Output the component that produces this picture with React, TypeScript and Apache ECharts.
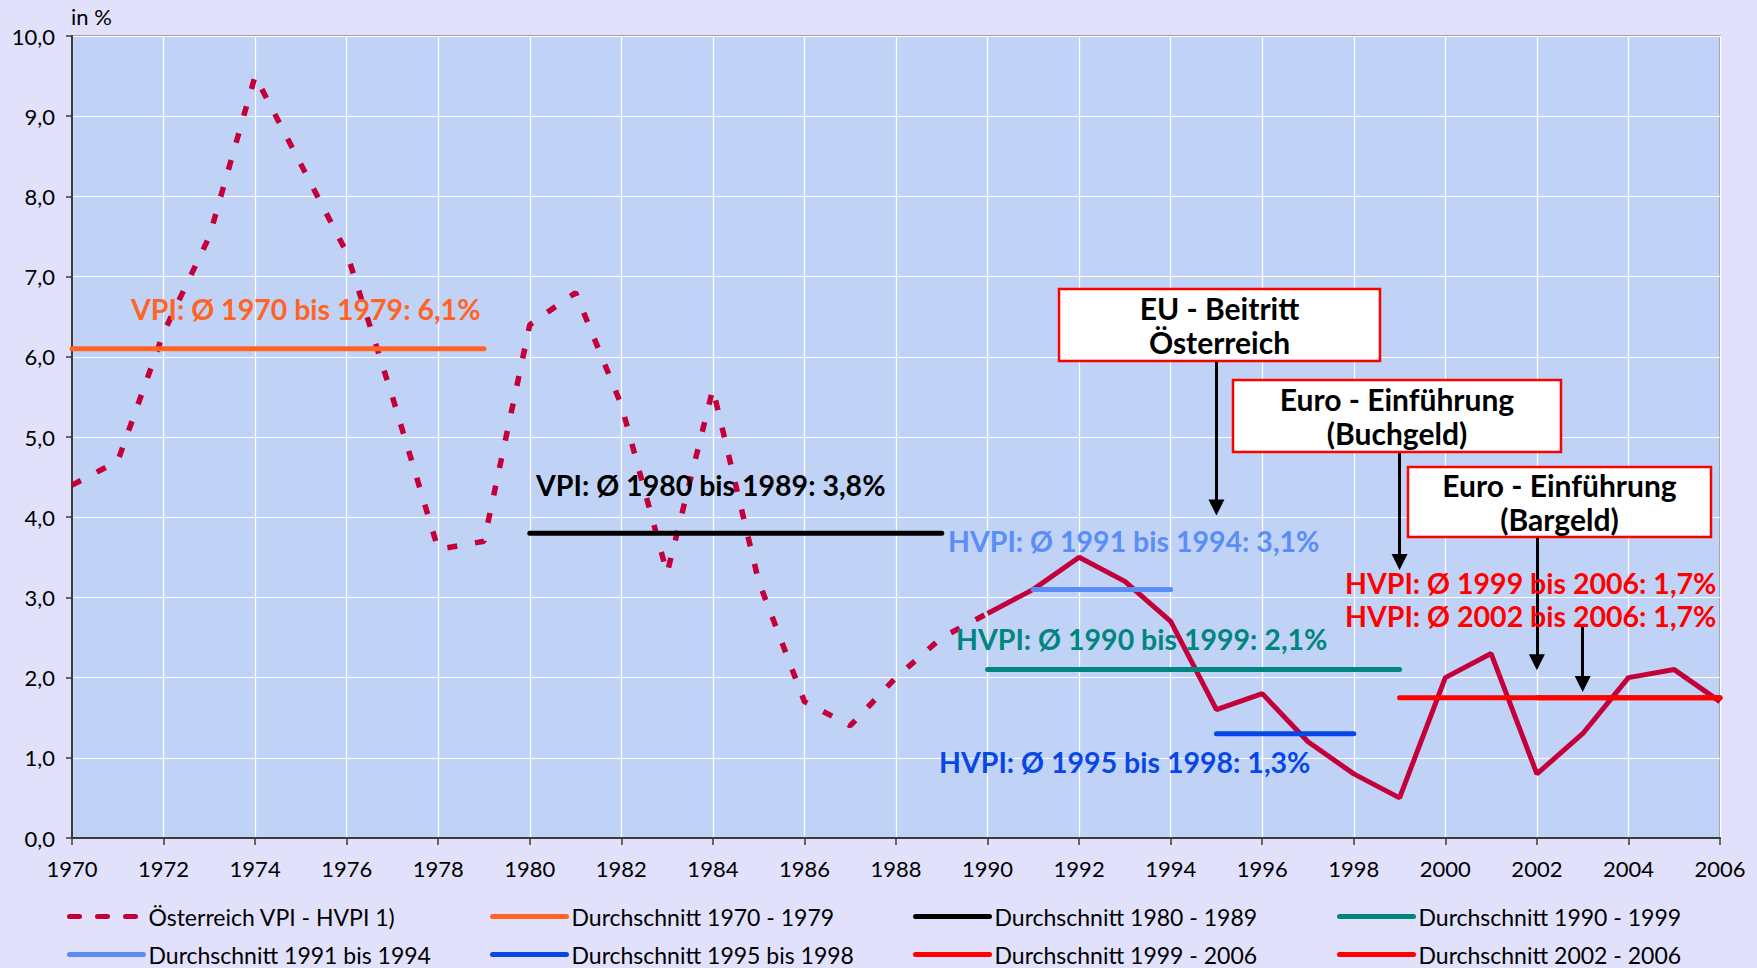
import React, { useEffect, useRef } from "react";
import * as echarts from "echarts";

// ---- data ----
const vpiYears = [1970, 1971, 1972, 1973, 1974, 1975, 1976, 1977, 1978, 1979, 1980, 1981, 1982, 1983, 1984, 1985, 1986, 1987, 1988, 1989, 1990];
const vpiValues = [4.4, 4.7, 6.3, 7.5, 9.5, 8.4, 7.3, 5.5, 3.6, 3.7, 6.4, 6.8, 5.4, 3.3, 5.6, 3.2, 1.7, 1.4, 2.0, 2.5, 2.8];
const hvpiYears = [1990, 1991, 1992, 1993, 1994, 1995, 1996, 1997, 1998, 1999, 2000, 2001, 2002, 2003, 2004, 2005, 2006];
const hvpiValues = [2.8, 3.1, 3.5, 3.2, 2.7, 1.6, 1.8, 1.2, 0.8, 0.5, 2.0, 2.3, 0.8, 1.3, 2.0, 2.1, 1.7];

const cpiName = "Österreich VPI - HVPI 1)";
const avgNames = [
  "Durchschnitt 1970 - 1979",
  "Durchschnitt 1980 - 1989",
  "Durchschnitt 1990 - 1999",
  "Durchschnitt 1991 bis 1994",
  "Durchschnitt 1995 bis 1998",
  "Durchschnitt 1999 - 2006",
  "Durchschnitt 2002 - 2006",
];
const avgFrom = [1970, 1980, 1990, 1991, 1995, 1999, 2002];
const avgTo = [1979, 1989, 1999, 1994, 1998, 2006, 2006];
const avgValues = [6.1, 3.8, 2.1, 3.1, 1.3, 1.75, 1.75];
const avgColors = ["#FF6424", "#000000", "#00857F", "#5B8DF6", "#0747E6", "#FF0000", "#FF0000"];

// arrows (event markers)
const arrowYears = [1995, 1999, 2002, 2003];
const arrowFrom = [5.95, 4.8, 3.75, 2.63];
const arrowTo = [4.12, 3.44, 2.19, 1.92];

// legend layout: 2 rows x 4 columns
const legendOrder = [
  cpiName, avgNames[0], avgNames[1], avgNames[2],
  avgNames[3], avgNames[4], avgNames[5], avgNames[6],
];

const FONT = "Lato, 'Open Sans', sans-serif";

export default function App() {
  const ref = useRef<HTMLDivElement>(null);
  useEffect(() => {
    if (!ref.current) return;
    const chart = echarts.init(ref.current, undefined, { renderer: "svg" });

    const series: any[] = [
      {
        name: cpiName,
        type: "line",
        data: vpiYears.map((y, i) => [y, vpiValues[i]]),
        symbol: "none",
        lineStyle: { color: "#C4003A", width: 5.5, type: [10, 18] },
        itemStyle: { color: "#C4003A" },
        z: 2,
      },
      {
        name: cpiName,
        type: "line",
        data: hvpiYears.map((y, i) => [y, hvpiValues[i]]),
        symbol: "none",
        lineStyle: { color: "#C4003A", width: 5 },
        itemStyle: { color: "#C4003A" },
        z: 2,
      },
    ];
    avgNames.forEach((n, i) => {
      series.push({
        name: n,
        type: "line",
        data: [
          [avgFrom[i], avgValues[i]],
          [avgTo[i], avgValues[i]],
        ],
        symbol: "none",
        lineStyle: { color: avgColors[i], width: 5, cap: "round" },
        itemStyle: { color: avgColors[i] },
        z: 3,
      });
    });
    series.push({
      name: "arrows",
      type: "line",
      data: [],
      z: 5,
      markLine: {
        silent: true,
        animation: false,
        symbol: ["none", "triangle"],
        symbolSize: 16,
        label: { show: false },
        lineStyle: { color: "#000", width: 3, type: "solid", opacity: 1 },
        itemStyle: { color: "#000" },
        data: arrowYears.map((y, i) => [
          { coord: [y, arrowFrom[i]] },
          { coord: [y, arrowTo[i]] },
        ]),
      },
    });

    const legendLefts = [67, 490, 913, 1337];
    const legendTops = [905, 943];
    const legends = legendOrder.map((name, i) => ({
      data: [name],
      left: legendLefts[i % 4],
      top: legendTops[Math.floor(i / 4)],
      orient: "horizontal",
      padding: 0,
      itemWidth: 74,
      itemHeight: 14,
      selectedMode: false,
      itemStyle: { opacity: 0 },
      lineStyle: { width: 5, cap: "round" },
      textStyle: { color: "#000", fontSize: 23, fontFamily: FONT },
    }));

    const labels = [
      { text: "VPI: Ø 1970 bis 1979: 6,1%", x: 131, y: 309, color: "#FF6424" },
      { text: "VPI: Ø 1980 bis 1989: 3,8%", x: 536, y: 485, color: "#000000" },
      { text: "HVPI: Ø 1991 bis 1994: 3,1%", x: 948, y: 541, color: "#5B8DF6" },
      { text: "HVPI: Ø 1990 bis 1999: 2,1%", x: 956, y: 639, color: "#00857F" },
      { text: "HVPI: Ø 1995 bis 1998: 1,3%", x: 939, y: 762, color: "#0747E6" },
      { text: "HVPI: Ø 1999 bis 2006: 1,7%", x: 1345, y: 583, color: "#FF0000" },
      { text: "HVPI: Ø 2002 bis 2006: 1,7%", x: 1345, y: 616, color: "#FF0000" },
    ];
    const boxes = [
      { text: "EU - Beitritt\nÖsterreich", x: 1059, y: 289, w: 321, h: 72 },
      { text: "Euro - Einführung\n(Buchgeld)", x: 1233, y: 380, w: 328, h: 72 },
      { text: "Euro - Einführung\n(Bargeld)", x: 1408, y: 467, w: 303, h: 70 },
    ];

    const graphic: any[] = [
      {
        type: "text",
        left: 71,
        top: 5,
        style: { text: "in %", fill: "#000", font: `22px ${FONT}` },
        z: 10,
      },
    ];
    labels.forEach((l) => {
      graphic.push({
        type: "text",
        x: l.x,
        y: l.y,
        z: 10,
        style: {
          text: l.text,
          fill: l.color,
          font: `bold 28.5px ${FONT}`,
          align: "left",
          verticalAlign: "middle",
          textAlign: "left",
          textVerticalAlign: "middle",
        },
      });
    });
    boxes.forEach((b) => {
      graphic.push({
        type: "rect",
        z: 10,
        shape: { x: b.x, y: b.y, width: b.w, height: b.h },
        style: { fill: "#FFFFFF", stroke: "#FF0000", lineWidth: 2.5 },
      });
      graphic.push({
        type: "text",
        z: 11,
        x: b.x + b.w / 2,
        y: b.y + b.h / 2,
        style: {
          text: b.text,
          fill: "#000",
          font: `bold 30px ${FONT}`,
          lineHeight: 34,
          align: "center",
          verticalAlign: "middle",
          textAlign: "center",
          textVerticalAlign: "middle",
        },
      });
    });

    chart.setOption({
      animation: false,
      backgroundColor: "#E1E1FC",
      textStyle: { fontFamily: FONT },
      grid: {
        left: 72,
        right: 37,
        top: 36,
        bottom: 130,
        show: true,
        backgroundColor: "#C0D3F7",
        borderColor: "#8A8A8A",
        borderWidth: 1.5,
      },
      xAxis: {
        type: "value",
        min: 1970,
        max: 2006,
        interval: 2,
        axisLine: { show: true, lineStyle: { color: "#3A3A3A", width: 2 } },
        axisTick: { show: true, length: 7, lineStyle: { color: "#3A3A3A", width: 1.5 } },
        splitLine: { show: true, lineStyle: { color: "#FFFFFF", width: 1.2 } },
        axisLabel: {
          color: "#000",
          fontSize: 22,
          fontFamily: FONT,
          margin: 19,
          formatter: (v: number) => String(v),
        },
      },
      yAxis: {
        type: "value",
        min: 0,
        max: 10,
        interval: 1,
        axisLine: { show: true, lineStyle: { color: "#3A3A3A", width: 2 } },
        axisTick: { show: true, length: 6, lineStyle: { color: "#3A3A3A", width: 1.5 } },
        splitLine: { show: true, lineStyle: { color: "#FFFFFF", width: 1.2 } },
        axisLabel: {
          color: "#000",
          fontSize: 22,
          fontFamily: FONT,
          margin: 17,
          formatter: (v: number) => v.toFixed(1).replace(".", ","),
        },
      },
      legend: legends,
      series,
      graphic,
    });

    return () => chart.dispose();
  }, []);

  return (
    <div
      ref={ref}
      style={{ position: "fixed", left: 0, top: 0, width: 1757, height: 968 }}
    />
  );
}
